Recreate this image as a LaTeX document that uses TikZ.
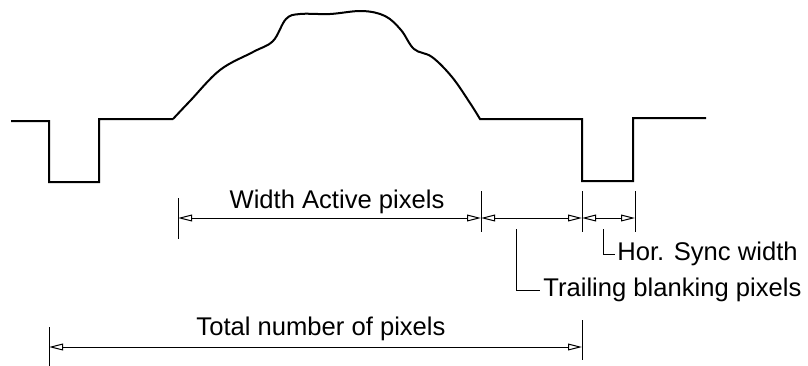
\documentclass[tikz,border=0pt]{standalone}
\usepackage{fontspec}
\setmainfont{Liberation Sans}
\usetikzlibrary{arrows.meta}
\begin{document}
\begin{tikzpicture}[x=0.5pt,y=-0.5pt,
  wave/.style={line width=1pt,line join=miter},
  extline/.style={line width=0.5pt},
  dimline/.style={line width=0.5pt,{Triangle[open,length=7pt,width=3.4pt,line width=0.5pt]}-{Triangle[open,length=7pt,width=3.4pt,line width=0.5pt]}},
  leader/.style={line width=0.5pt},
  lbl/.style={font=\fontsize{12.8}{15}\selectfont,inner sep=0pt}]
\useasboundingbox (0,0) rectangle (808,365);
% waveform
\draw[wave] (11,121) -- (49,121) -- (49,182) -- (99,182) -- (99,119) -- (173,119)
  plot[smooth,tension=0.6] coordinates {(173,119) (190,101) (220,70) (253,52) (273,41) (286,19) (300,14) (330,14) (362,11) (385,16) (401,30) (414,49) (432,57) (452,77) (470,103) (480,119)}
  -- (582,119) -- (582,181) -- (633,181) -- (633,118) -- (706,118);
% extension lines
\coordinate (wa1) at (178,198); \coordinate (wa2) at (178,239);
\coordinate (e1t) at (481,191); \coordinate (e1b) at (481,232);
\coordinate (e2t) at (582,191); \coordinate (e2b) at (582,232);
\coordinate (e3t) at (635,191); \coordinate (e3b) at (635,232);
\coordinate (t1t) at (49,327); \coordinate (t1b) at (49,366);
\coordinate (t2t) at (582,320); \coordinate (t2b) at (582,360);
\draw[extline] (wa1) -- (wa2);
\draw[extline] (e1t) -- (e1b);
\draw[extline] (e2t) -- (e2b);
\draw[extline] (e3t) -- (e3b);
\draw[extline] (t1t) -- (t1b);
\draw[extline] (t2t) -- (t2b);
% dimension lines
\coordinate (d0) at (178,218); \coordinate (d1) at (481,218);
\coordinate (d2) at (582,218); \coordinate (d3) at (635,218);
\coordinate (tt0) at (49,347); \coordinate (tt1) at (582,347);
\draw[dimline] (d0) -- (d1);
\draw[dimline] (d1) -- (d2);
\draw[dimline] (d2) -- (d3);
\draw[dimline] (tt0) -- (tt1);
% labels
\node[lbl,anchor=base] (wal) at (337,208) {Width Active pixels};
\node[lbl,anchor=base] (tnl) at (321,335) {Total number of pixels};
\node[lbl,anchor=west] (tbl) at (543,290) {Trailing blanking pixels};
\node[lbl,anchor=west] (hsl) at (617,254) {Hor. Sync width};
% leaders
\coordinate (tbs) at (516,229);
\coordinate (hss) at (603,229);
\draw[leader] (tbs) |- ([xshift=-1.5pt]tbl.west);
\draw[leader] (hss) |- ([xshift=-1pt]hsl.west);
\end{tikzpicture}
\end{document}
